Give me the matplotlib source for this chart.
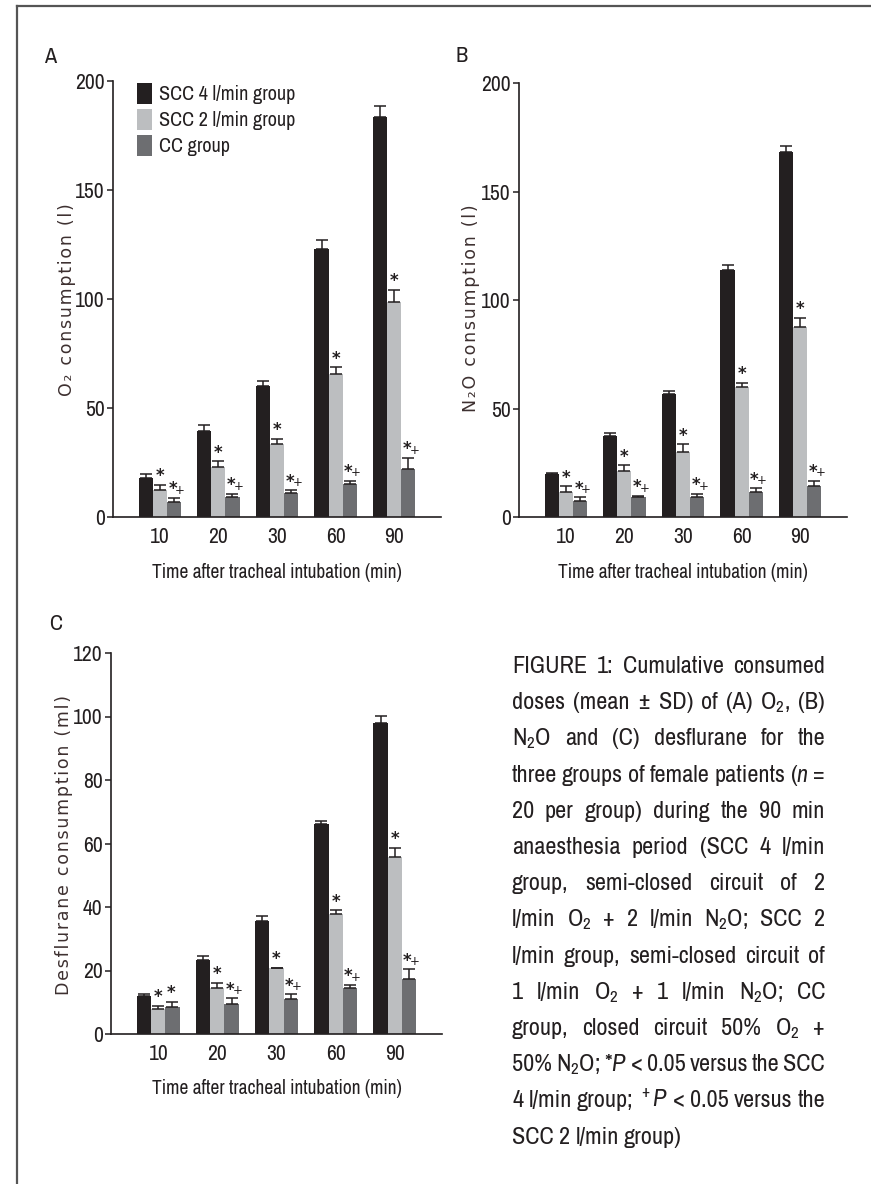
import matplotlib
matplotlib.use("Agg")
import matplotlib.pyplot as plt
from matplotlib import font_manager as fm
from matplotlib.lines import Line2D
import numpy as np

# ---- data ----
times = ["10", "20", "30", "60", "90"]
groups = ["SCC 4 l/min group", "SCC 2 l/min group", "CC group"]

o2_scc4 = [17.8, 39.6, 59.9, 123.0, 183.6]
o2_scc4_sd = [1.7, 2.4, 2.3, 4.2, 4.8]
o2_scc2 = [12.3, 22.9, 33.6, 65.8, 98.5]
o2_scc2_sd = [2.6, 2.6, 2.4, 2.8, 5.8]
o2_cc = [7.0, 9.0, 10.8, 15.1, 22.1]
o2_cc_sd = [1.8, 1.6, 1.5, 1.6, 5.1]

n2o_scc4 = [19.7, 37.1, 56.5, 113.7, 168.3]
n2o_scc4_sd = [0.5, 1.7, 1.7, 2.5, 2.6]
n2o_scc2 = [11.5, 21.2, 30.1, 60.1, 87.4]
n2o_scc2_sd = [2.6, 2.6, 3.4, 1.7, 4.5]
n2o_cc = [7.2, 9.0, 9.0, 11.5, 14.3]
n2o_cc_sd = [1.8, 0.7, 1.7, 1.8, 2.5]

des_scc4 = [12.1, 23.4, 35.5, 66.2, 97.8]
des_scc4_sd = [0.4, 1.1, 1.7, 1.0, 2.3]
des_scc2 = [7.8, 14.4, 20.7, 37.9, 55.9]
des_scc2_sd = [1.1, 1.8, 0.2, 1.1, 2.7]
des_cc = [8.5, 9.5, 10.9, 14.4, 17.4]
des_cc_sd = [1.6, 1.8, 1.6, 1.1, 3.0]

# significance marks above the CC bars ("*" vs SCC 4, "+" vs SCC 2)
o2_marks = ["*+"] * 5
n2o_marks = ["*+"] * 5
des_marks = ["*", "*+", "*+", "*+", "*+"]

# ---- pick a narrow font if one is installed ----
fam, stretch = "Liberation Sans", "normal"
narrow = []
for f in fm.fontManager.ttflist:
    if f.style != "normal" or f.weight not in (400, "normal", "regular"):
        continue
    if "Narrow" in f.name or "Condensed" in f.name:
        narrow.append((0, f.name, "normal"))
    elif f.stretch in ("condensed", "semi-condensed"):
        narrow.append((1, f.name, f.stretch))
if narrow:
    narrow.sort()
    _, fam, stretch = narrow[0]

W, H = 871, 1184
plt.rcParams["font.family"] = [fam, "DejaVu Sans"]
plt.rcParams["font.stretch"] = stretch
plt.rcParams["mathtext.fontset"] = "custom"
plt.rcParams["mathtext.rm"] = f"{fam}:stretch={stretch}"
plt.rcParams["mathtext.it"] = f"{fam}:style=italic:stretch={stretch}"
plt.rcParams["mathtext.bf"] = f"{fam}:weight=bold:stretch={stretch}"

ink = "#231f20"
colors = ["#231f20", "#bcbec0", "#6d6e71"]
lab_col = "#3d3030"


def fx(x):
    return x / W


def fy(y):
    return 1 - y / H


def spaced(s):
    return "\u200a".join(s)


fig = plt.figure(figsize=(W / 100, H / 100), dpi=100)
fig.patch.set_facecolor("white")

# frame lines (left and top)
fig.add_artist(Line2D([fx(17), fx(17)], [0, fy(6)], color="#555555", lw=1.6))
fig.add_artist(Line2D([fx(17), 1], [fy(6), fy(6)], color="#555555", lw=1.6))

mark_kw = dict(textcoords="offset points", ha="center", va="baseline",
               fontsize=12, fontweight="bold", color=ink, family=["DejaVu Sans"],
               stretch="normal")
plus_kw = dict(textcoords="offset points", ha="center", va="baseline",
               fontsize=8.5, color=ink, family=["DejaVu Sans"], stretch="normal")


def panel(rect, means, sds, ymax, ystep, marks):
    left, top, right, bottom = rect
    ax = fig.add_axes([fx(left), fy(bottom), fx(right) - fx(left), fy(top) - fy(bottom)])
    x = np.arange(len(times))
    w = 0.24
    bars = []
    for i in range(3):
        b = ax.bar(x + (i - 1) * w, means[i], w, color=colors[i], zorder=2)
        ax.errorbar(x + (i - 1) * w, means[i], yerr=[np.zeros(len(times)), sds[i]],
                    fmt="none", ecolor=ink, elinewidth=1.1, capsize=4, capthick=1.1, zorder=3)
        bars.append(b)
    for j in range(len(times)):
        ax.annotate("*", (x[j], means[1][j] + sds[1][j]), xytext=(0, 2.5), **mark_kw)
        top_cc = means[2][j] + sds[2][j]
        ax.annotate("*", (x[j] + w, top_cc), xytext=(-1, 2.5), **mark_kw)
        if "+" in marks[j]:
            ax.annotate("+", (x[j] + w, top_cc), xytext=(4.5, 3), **plus_kw)
    ax.set_xlim(-0.8, 4.8)
    ax.set_ylim(0, ymax)
    ax.set_yticks(np.arange(0, ymax + 1, ystep))
    ax.set_xticks(x)
    ax.set_xticklabels(times)
    for s in ["top", "right"]:
        ax.spines[s].set_visible(False)
    for s in ["left", "bottom"]:
        ax.spines[s].set_color(ink)
        ax.spines[s].set_linewidth(1.2)
    ax.tick_params(axis="y", length=4, width=1.1, color=ink, labelsize=15.5, labelcolor=ink, pad=2)
    ax.tick_params(axis="x", length=0, labelsize=15.5, labelcolor=ink, pad=7)
    return ax, bars


axA, barsA = panel((113, 81, 441, 517), [o2_scc4, o2_scc2, o2_cc],
                   [o2_scc4_sd, o2_scc2_sd, o2_cc_sd], 200, 50, o2_marks)
axB, barsB = panel((519, 83, 847, 517), [n2o_scc4, n2o_scc2, n2o_cc],
                   [n2o_scc4_sd, n2o_scc2_sd, n2o_cc_sd], 200, 50, n2o_marks)
axC, barsC = panel((111, 653, 442, 1034), [des_scc4, des_scc2, des_cc],
                   [des_scc4_sd, des_scc2_sd, des_cc_sd], 120, 20, des_marks)

# legend in panel A
fig.legend(barsA, groups, loc="upper left", bbox_to_anchor=(fx(137), fy(83)),
           frameon=False, fontsize=14.5, handlelength=0.75, handleheight=1.2,
           labelspacing=0.25, handletextpad=0.35, borderpad=0, borderaxespad=0,
           labelcolor=ink)

# panel letters
fig.text(fx(50), fy(57), "A", fontsize=16, color=ink, ha="center", va="center")
fig.text(fx(462), fy(56), "B", fontsize=16, color=ink, ha="center", va="center")
fig.text(fx(56), fy(624), "C", fontsize=16, color=ink, ha="center", va="center")

# axis labels
xl = "Time after tracheal intubation (min)"
fig.text(fx(277), fy(573), xl, fontsize=14, color=ink, ha="center", va="center")
fig.text(fx(683), fy(573), xl, fontsize=14, color=ink, ha="center", va="center")
fig.text(fx(277), fy(1088), xl, fontsize=14, color=ink, ha="center", va="center")

ykw = dict(rotation=90, ha="center", va="center", fontsize=12.5, color=lab_col,
           family=["DejaVu Sans"], stretch="normal")
fig.text(fx(67), fy(300), spaced("O\u2082 consumption (l)"), **ykw)
fig.text(fx(471), fy(308), spaced("N\u2082O consumption (l)"), **ykw)
fig.text(fx(64), fy(845), spaced("Desflurane consumption (ml)"), **ykw)

# caption, justified line by line
caption = [
    "FIGURE 1: Cumulative consumed",
    "doses (mean \u00b1 SD) of (A) O$_2$, (B)",
    "N$_2$O and (C) desflurane for the",
    "three groups of female patients ($n$ =",
    "20 per group) during the 90 min",
    "anaesthesia period (SCC 4 l/min",
    "group, semi-closed circuit of 2",
    "l/min O$_2$ + 2 l/min N$_2$O; SCC 2",
    "l/min group, semi-closed circuit of",
    "1 l/min O$_2$ + 1 l/min N$_2$O; CC",
    "group, closed circuit 50% O$_2$ +",
    "50% N$_2$O; *$P$ < 0.05 versus the SCC",
    "4 l/min group; $^+$$P$ < 0.05 versus the",
    "SCC 2 l/min group)",
]
cap_left, cap_right = 512, 825
cap_top, cap_step = 673, 36.2
base = 18.0
min_gap = 4.0
renderer = fig.canvas.get_renderer()
lines = []
fit = 1.0
for line in caption:
    words = line.split(" ")
    texts = [fig.text(0, 0, wd, fontsize=base, color=ink, ha="left", va="baseline")
             for wd in words]
    natural = sum(t.get_window_extent(renderer).width for t in texts)
    natural += min_gap * (len(words) - 1)
    fit = min(fit, (cap_right - cap_left) / natural)
    lines.append(texts)
size = base * fit
for k, texts in enumerate(lines):
    for t in texts:
        t.set_fontsize(size)
    widths = [t.get_window_extent(renderer).width for t in texts]
    if k < len(lines) - 1 and len(texts) > 1:
        gap = (cap_right - cap_left - sum(widths)) / (len(texts) - 1)
    else:
        gap = min_gap * 1.3
    xpos = cap_left
    for t, wd in zip(texts, widths):
        t.set_position((fx(xpos), fy(cap_top + k * cap_step)))
        xpos += wd + gap

fig.savefig("out.png", dpi=100)
